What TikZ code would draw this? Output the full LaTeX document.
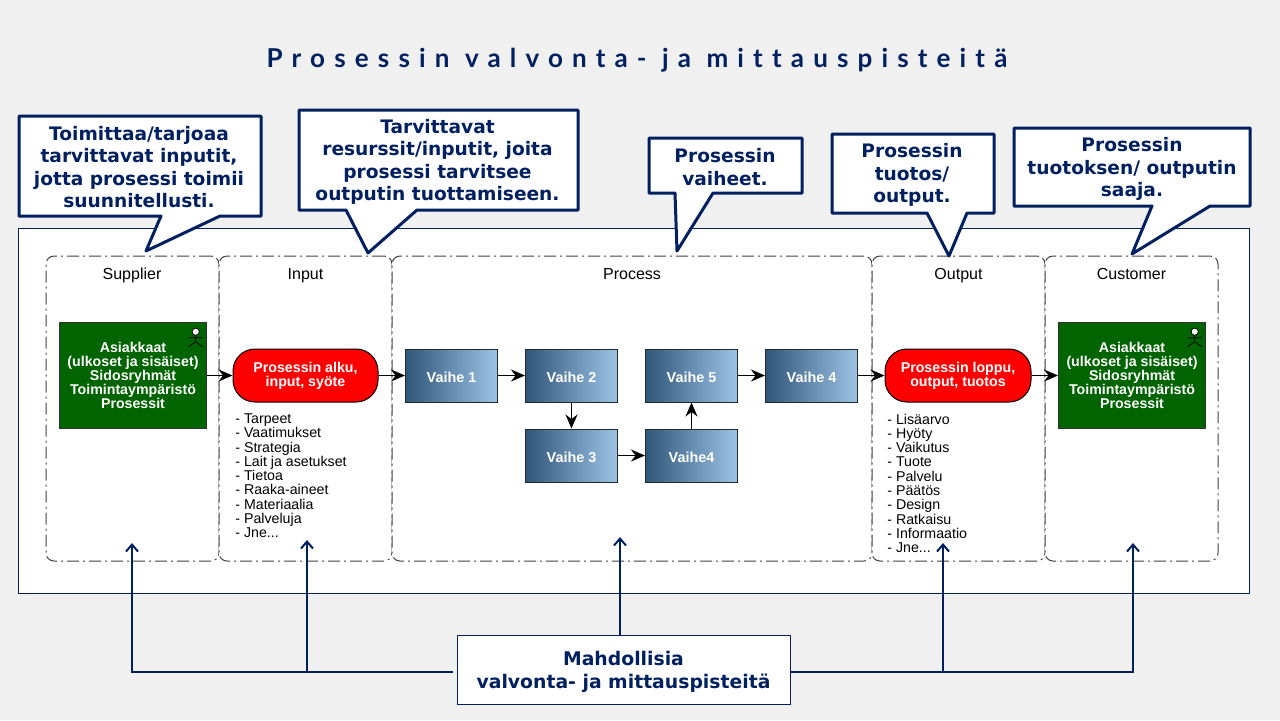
\documentclass[tikz,border=0pt]{standalone}
\usepackage{fontspec}
\setmainfont{Liberation Sans}
\newfontfamily\calloutfont{DejaVu Sans}
\newfontfamily\titlefont[LetterSpace=35.2,Ligatures=NoCommon]{Lato}
\usetikzlibrary{arrows.meta}
\usetikzlibrary{positioning}
\definecolor{navy}{HTML}{002060}
\definecolor{slide}{HTML}{F0F0F0}
\definecolor{stepleft}{HTML}{2F5679}
\definecolor{stepright}{HTML}{9DC3E6}
\definecolor{actorgreen}{HTML}{006400}
\tikzset{
  lane/.style={draw=black!75, dash pattern=on 6pt off 2pt on 1pt off 2pt, line width=0.5pt, rounded corners=4pt, fill=white, inner sep=0pt},
  lanetitle/.style={font=\fontsize{8}{9}\selectfont, inner sep=0pt, anchor=base},
  actorbox/.style={draw=black!80, line width=0.5pt, fill=actorgreen, text=white, align=center, inner sep=0pt, font=\fontsize{7.1}{7.1}\selectfont\bfseries, execute at begin node=\rule{0pt}{7pt}},
  terminal/.style={draw=black, line width=0.5pt, fill=red, text=white, align=center, inner sep=0pt, rounded corners=11pt, font=\fontsize{7.1}{7.1}\selectfont\bfseries, execute at begin node=\rule{0pt}{7pt}},
  stepbox/.style={draw=black!85, line width=0.5pt, left color=stepleft, right color=stepright, text=white, inner sep=0pt, minimum width=46pt, minimum height=26.5pt, font=\fontsize{7.2}{8}\selectfont\bfseries, execute at begin node=\rule{0pt}{7pt}},
  listing/.style={align=left, anchor=north west, inner sep=0pt, font=\fontsize{7.1}{7.13}\selectfont},
  callout/.style={draw=navy, line width=1.5pt, line join=round, fill=white},
  callouttext/.style={text=navy, align=center, inner sep=0pt, font=\calloutfont\fontsize{9.3}{11.2}\selectfont\bfseries},
  flow/.style={draw=black, line width=0.9pt, -{Stealth[length=7pt, width=6pt]}},
  probe/.style={draw=navy, line width=1pt, -{Straight Barb[length=3.5pt, width=6pt]}},
  actor/.pic={
    \draw[line width=0.4pt, fill=white] (0,0) circle [radius=3.6];
    \draw[line width=0.4pt] (0,4) -- (0,10) (-7,6) -- (7,6) (-7,15) -- (0,10) -- (7,15);
  }
}
\begin{document}
\begin{tikzpicture}[x=0.5pt,y=-0.5pt,line cap=butt]
\useasboundingbox (0,0) rectangle (1280,720);
\fill[slide] (0,0) rectangle (1280,720);
\node[text=navy, inner sep=0pt, font=\titlefont\fontsize{13}{15}\selectfont\bfseries] (title) at (637,60.5) {Prosessin valvonta- ja mittauspisteitä};
\draw[navy, line width=0.5pt, fill=white] (18.5,228.5) rectangle (1249.5,593.5);

% lanes
\node[lane, minimum width=86.5pt, minimum height=152.5pt] (supplier) at (132.5,408.5) {};
\node[lane, minimum width=86.5pt, minimum height=152.5pt] (input) at (305.5,408.5) {};
\node[lane, minimum width=240pt, minimum height=152.5pt] (process) at (632,408.5) {};
\node[lane, minimum width=86.5pt, minimum height=152.5pt] (output) at (958.5,408.5) {};
\node[lane, minimum width=86.5pt, minimum height=152.5pt] (customer) at (1131.5,408.5) {};
\node[lanetitle] at (132,279.5) (suppliertitle) {Supplier};
\node[lanetitle] at (305.5,279.5) (inputtitle) {Input};
\node[lanetitle] at (632,279.5) (processtitle) {Process};
\node[lanetitle] at (958.5,279.5) (outputtitle) {Output};
\node[lanetitle] at (1131.5,279.5) (customertitle) {Customer};

% callouts
\draw[callout] (19,116) -- (261,116) -- (261,216) -- (220,216) -- (146,251) -- (161,216) -- (19,216) -- cycle;
\node[callouttext] (calloutA) at (139,167) {Toimittaa/tarjoaa\\tarvittavat inputit,\\jotta prosessi toimii\\suunnitellusti.};
\draw[callout] (299,110) -- (578,110) -- (578,210) -- (417,210) -- (368,253) -- (346,210) -- (299,210) -- cycle;
\node[callouttext] (calloutB) at (437.5,162) {Tarvittavat\\resurssit/inputit, joita\\prosessi tarvitsee\\outputin tuottamiseen.};
\draw[callout] (649,138) -- (802,138) -- (802,193) -- (713,193) -- (677,251) -- (675,193) -- (649,193) -- cycle;
\node[callouttext] (calloutC) at (725,167) {Prosessin\\vaiheet.};
\draw[callout] (832,134) -- (994,134) -- (994,213) -- (967,213) -- (949,256) -- (927,213) -- (832,213) -- cycle;
\node[callouttext] (calloutD) at (912,175) {Prosessin\\tuotos/\\output.};
\draw[callout] (1014,128) -- (1250,128) -- (1250,206) -- (1210,206) -- (1132,254) -- (1152,206) -- (1014,206) -- cycle;
\node[callouttext] (calloutE) at (1132,169) {Prosessin\\tuotoksen/ outputin\\saaja.};

% boxes
\node[actorbox, minimum width=73.5pt, minimum height=53pt] (suppliers) at (133,375.5) {Asiakkaat\\(ulkoset ja sisäiset)\\Sidosryhmät\\Toimintaympäristö\\Prosessit};
\node[actorbox, minimum width=73.5pt, minimum height=53pt] (customers) at (1132,375.5) {Asiakkaat\\(ulkoset ja sisäiset)\\Sidosryhmät\\Toimintaympäristö\\Prosessit};
\pic at (195.7,331.7) {actor};
\pic at (1194.7,331.7) {actor};
\node[terminal, minimum width=72.5pt, minimum height=26.5pt] (start) at (305.5,375.5) {Prosessin alku,\\input, syöte};
\node[terminal, minimum width=73pt, minimum height=26.5pt] (finish) at (958,375.5) {Prosessin loppu,\\output, tuotos};
\node[stepbox] (step1) at (451.5,375.5) {Vaihe 1};
\node[stepbox] (step2) at (571.5,375.5) {Vaihe 2};
\node[stepbox] (step3) at (571.5,455.5) {Vaihe 3};
\node[stepbox] (step4) at (691.5,455.5) {Vaihe4};
\node[stepbox] (step5) at (691.5,375.5) {Vaihe 5};
\node[stepbox] (step6) at (811.5,375.5) {Vaihe 4};

\node[listing] (needs) at (235,413.5) {- Tarpeet\\- Vaatimukset\\- Strategia\\- Lait ja asetukset\\- Tietoa\\- Raaka-aineet\\- Materiaalia\\- Palveluja\\- Jne...};
\node[listing] (results) at (887,413.5) {- Lisäarvo\\- Hyöty\\- Vaikutus\\- Tuote\\- Palvelu\\- Päätös\\- Design\\- Ratkaisu\\- Informaatio\\- Jne...};

\draw[flow] (suppliers) -- (start);
\draw[flow] (start) -- (step1);
\draw[flow] (step1) -- (step2);
\draw[flow] (step2) -- (step3);
\draw[flow] (step3) -- (step4);
\draw[flow] (step4) -- (step5);
\draw[flow] (step5) -- (step6);
\draw[flow] (step6) -- (finish);
\draw[flow] (finish) -- (customers);

% measuring points
\node[draw=navy, line width=0.5pt, fill=white, minimum width=166.5pt, minimum height=34.5pt, inner sep=0pt, align=center, text=navy, font=\calloutfont\fontsize{9.4}{11.2}\selectfont\bfseries] (points) at (623.5,669.5) {\rule{0pt}{9.5pt}Mahdollisia\\valvonta- ja mittauspisteitä};
\coordinate (railleft) at (453,671.5);
\coordinate (railright) at (790,671.5);
\coordinate (tipA) at (132,543);
\coordinate (tipB) at (307,540);
\coordinate (tipC) at (620,537);
\coordinate (tipD) at (943,543);
\coordinate (tipE) at (1133,543);
\draw[probe] (railleft) -| (tipA);
\draw[probe] (railleft -| tipB) -- (tipB);
\draw[probe] (points.north -| tipC) -- (tipC);
\draw[probe] (railright) -| (tipE);
\draw[probe] (railright -| tipD) -- (tipD);
\end{tikzpicture}
\end{document}
